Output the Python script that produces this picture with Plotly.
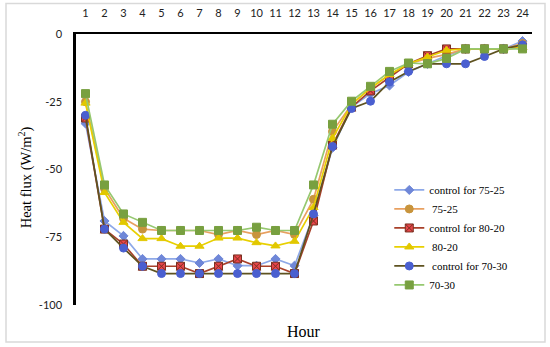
import plotly.graph_objects as go

hours = list(range(1, 25))
tick_labels = [str(h) for h in hours]

control_75_25 = [-33, -69, -74.5, -83, -83, -83, -84.5, -83, -85.5, -85.5, -83, -85.5,
                 -67, -42, -27, -22, -19, -14, -11, -8, -5.5, -5.5, -5.5, -2.6]
s_75_25 = [-25, -57, -68, -72, -72.5, -72.5, -72.5, -74, -72.5, -74, -72.5, -74,
           -61, -36, -26, -20, -15, -11, -9, -7.5, -5.5, -5.5, -5.5, -3.5]
control_80_20 = [-31, -72, -77.5, -85.7, -85.7, -85.7, -88.4, -85.7, -83, -85.7, -85.7, -88.4,
                 -69, -41, -27, -21, -16, -11, -8, -5.5, -5.5, -5.5, -5.5, -5]
s_80_20 = [-25.5, -58.5, -69.5, -75.5, -75.5, -78.3, -78.3, -75.3, -75.3, -77, -78.2, -76.5,
           -64, -38.5, -26, -20, -15, -11, -8.5, -6, -5.5, -5.5, -5.5, -5]
control_70_30 = [-30, -72, -79, -85.7, -88.4, -88.4, -88.4, -88.4, -88.4, -88.4, -88.4, -88.4,
                 -66.4, -41.5, -27.5, -24.8, -17.7, -13.8, -11, -11, -11, -8.3, -5.5, -4]
s_70_30 = [-22, -55.7, -66.4, -69.5, -72.5, -72.5, -72.5, -72.5, -72.5, -71.3, -72.5, -72.5,
           -55.7, -33.3, -24.8, -19.3, -13.8, -10.7, -11, -9, -5.5, -5.5, -5.5, -5.5]

series = [
    ("control for 75-25", control_75_25, "#8ea9e8", "diamond", "#6f87d8", "#6f87d8", 7),
    (" 75-25", s_75_25, "#e8a060", "circle", "#c8943c", "#c8943c", 8),
    ("control for 80-20", control_80_20, "#a8402a", "square-x", "#e8454a", "#7a3020", 8),
    (" 80-20", s_80_20, "#e8d000", "triangle-up", "#e2c800", "#e2c800", 8),
    (" control for 70-30", control_70_30, "#5e5220", "circle", "#4a5fd0", "#4a5fd0", 8),
    ("70-30", s_70_30, "#96c870", "square", "#78a040", "#78a040", 8),
]

fig = go.Figure()
for name, vals, lc, sym, mc, mlc, ms in series:
    fig.add_trace(go.Scatter(
        x=hours, y=vals, name=name, mode="lines+markers",
        line=dict(color=lc, width=1.7),
        marker=dict(symbol=sym, color=mc, size=ms, line=dict(color=mlc, width=1)),
    ))

fig.update_layout(
    width=550, height=347,
    margin=dict(l=76, r=18, t=34, b=42),
    paper_bgcolor="white", plot_bgcolor="white",
    showlegend=True,
    legend=dict(x=0.687, y=0.478, xanchor="left", yanchor="top",
                font=dict(family="Liberation Serif", size=11, color="black"),
                bgcolor="rgba(0,0,0,0)", itemwidth=30, tracegroupgap=0),
    xaxis=dict(side="top", range=[0.5, 24.5], tickmode="array", tickvals=hours,
               ticktext=tick_labels, showline=True, linecolor="black", linewidth=2,
               showgrid=False, zeroline=False, ticks="", ticklabelstandoff=11,
               automargin=False,
               tickfont=dict(family="Lato", size=11, color="#222")),
    yaxis=dict(range=[-100, 0], tickmode="array", tickvals=[0, -25, -50, -75, -100],
               ticktext=["0", "-25", "-50", "-75", "-100"],
               showline=True, linecolor="black", linewidth=2.5,
               showgrid=False, zeroline=False, ticks="", ticklabelstandoff=9,
               automargin=False,
               tickfont=dict(family="Lato", size=11, color="#222")),
    annotations=[
        dict(text="Heat flux (W/m<sup>2</sup>)", xref="paper", yref="paper",
             x=-0.112, y=0.471, textangle=-90, showarrow=False,
             font=dict(family="Liberation Serif", size=14.5, color="black"),
             xanchor="center", yanchor="middle"),
        dict(text="Hour", xref="paper", yref="paper", x=0.5, y=-0.0994,
             showarrow=False, font=dict(family="Liberation Serif", size=16, color="black"),
             xanchor="center", yanchor="middle"),
    ],
    shapes=[dict(type="rect", xref="paper", yref="paper",
                 x0=-0.1535, x1=1.0285, y0=-0.1363, y1=1.1123,
                 line=dict(color="#d9d9d9", width=1.5), fillcolor="rgba(0,0,0,0)",
                 layer="below")],
)

fig.write_html("out.html", config={"displayModeBar": False},
               post_script="document.body.style.margin='0';document.body.style.overflow='hidden';")
